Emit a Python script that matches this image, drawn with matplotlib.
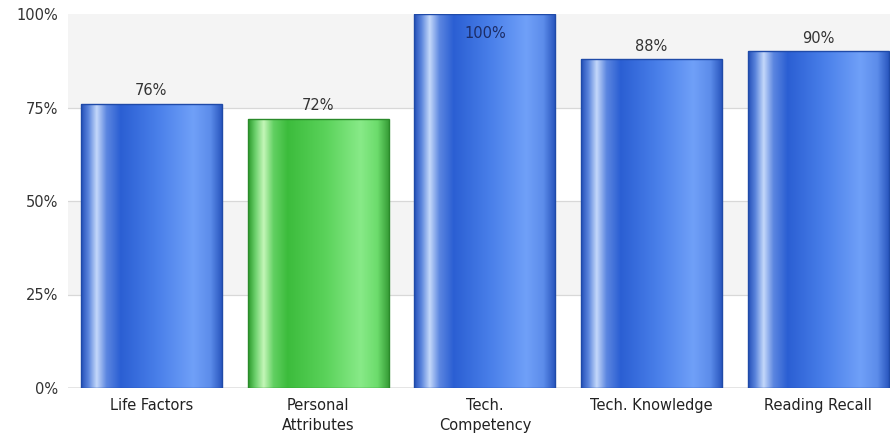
import numpy as np
import matplotlib
matplotlib.use("Agg")
import matplotlib.pyplot as plt
from matplotlib.colors import to_rgb

categories = ["Life Factors", "Personal\nAttributes", "Tech.\nCompetency", "Tech. Knowledge", "Reading Recall"]
values = [76, 72, 100, 88, 90]
bar_kind = ["blue", "green", "blue", "blue", "blue"]
yticks = [0, 25, 50, 75, 100]

# horizontal shading of each bar: (position, colour)
shades = {
    "blue": [(0.0, "#2450b8"), (0.05, "#5a84dc"), (0.11, "#c4d8fa"), (0.18, "#5c86e0"),
             (0.28, "#2b5fd3"), (0.55, "#4a80ea"), (0.80, "#70a0f8"), (0.92, "#5c8cea"),
             (1.0, "#2b58c0")],
    "green": [(0.0, "#2c9a2c"), (0.05, "#6cd06c"), (0.11, "#c4f6b8"), (0.18, "#62d062"),
              (0.28, "#3cbc3c"), (0.55, "#5ad25a"), (0.80, "#88ea88"), (0.92, "#6cdc6c"),
              (1.0, "#389e38")],
}
edges = {"blue": "#1f4aa8", "green": "#2a8a2a"}


def gradient(stops, n=200):
    xs = np.linspace(0, 1, n)
    pos = [p for p, _ in stops]
    rgb = np.array([to_rgb(c) for _, c in stops])
    out = np.stack([np.interp(xs, pos, rgb[:, k]) for k in range(3)], axis=-1)
    return out[np.newaxis, :, :]


fig = plt.figure(figsize=(8.9, 4.38), dpi=100)
ax = fig.add_axes([68 / 890, 50 / 438, 822 / 890, 374 / 438])

# alternating background bands
for i in range(len(yticks) - 1):
    if i % 2 == 1:
        ax.axhspan(yticks[i], yticks[i + 1], color="#f4f4f4", zorder=0, lw=0)
for t in yticks[1:-1]:
    ax.axhline(t, color="#d8d8d8", lw=0.9, zorder=1)

x = np.arange(len(categories))
width = 0.845
bars = ax.bar(x, values, width=width, color="none", zorder=3)
for b, kind, v in zip(bars, bar_kind, values):
    b.set_edgecolor(edges[kind])
    b.set_linewidth(1.0)
    x0 = b.get_x()
    im = ax.imshow(gradient(shades[kind]), extent=(x0, x0 + width, 0, v),
                   aspect="auto", zorder=2, interpolation="bilinear")
    im.set_clip_path(b)
    if v >= 97:
        ax.annotate(f"{v}%", (b.get_x() + width / 2, v), xytext=(0, -17),
                    textcoords="offset points", ha="center", va="baseline",
                    fontsize=10.5, color="#1c2c66", zorder=5)
    else:
        ax.annotate(f"{v}%", (b.get_x() + width / 2, v), xytext=(0, 6),
                    textcoords="offset points", ha="center", va="baseline",
                    fontsize=10.5, color="#333333", zorder=5)

ax.set_xlim(-0.5, -0.5 + 822 / 166.75)
ax.set_ylim(0, 100)
ax.set_yticks(yticks)
ax.set_yticklabels([f"{t}%" for t in yticks], fontsize=10.5, color="#333333")
ax.set_xticks(x)
ax.set_xticklabels(categories, fontsize=10.5, color="#222222", linespacing=1.4, va="top")
ax.tick_params(length=0, axis="y", pad=7)
ax.tick_params(length=0, axis="x", pad=7)
for s in ax.spines.values():
    s.set_visible(False)
ax.axhline(0, color="#e0e0e0", lw=1.2, zorder=1)

fig.savefig("out.png", dpi=100)
